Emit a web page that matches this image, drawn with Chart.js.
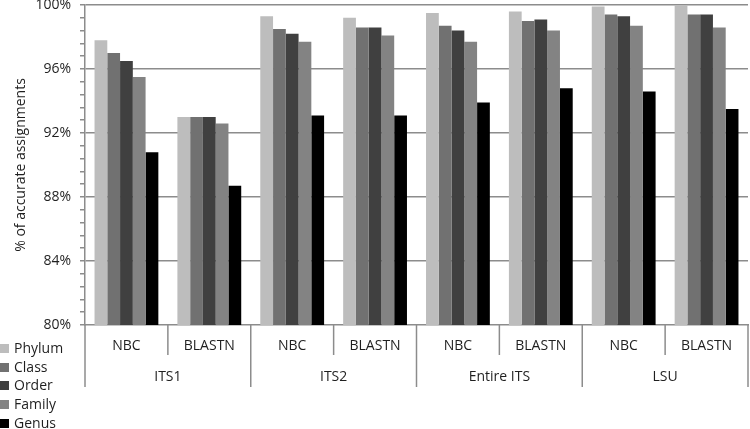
<!DOCTYPE html>
<html lang="en">
<head>
  <meta charset="UTF-8">
  <title>Accurate assignments</title>
  <script src="https://cdn.jsdelivr.net/npm/chart.js"></script>
  <style>
    body {
      margin: 0;
      background: #fff;
      font-family: 'Open Sans', sans-serif;
      color: #1f1f1f;
    }
    .wrap {
      position: relative;
      width: 750px;
      height: 429px;
      overflow: hidden;
    }
    .legend {
      position: absolute;
      left: 0;
      top: 339px;
      font-size: 14px;
      line-height: 18.7px;
    }
    .legend div { white-space: nowrap; }
    .legend span {
      display: inline-block;
      width: 9px;
      height: 9px;
      margin-right: 5px;
      vertical-align: 0;
    }
  </style>
</head>
<body>
  <div class="wrap">
    <canvas id="chart" width="750" height="429"></canvas>
    <div class="legend" id="legend"></div>
  </div>

  <script>
    const tickLabels = ['NBC', 'BLASTN', 'NBC', 'BLASTN', 'NBC', 'BLASTN', 'NBC', 'BLASTN'];
    const regions = ['ITS1', 'ITS2', 'Entire ITS', 'LSU'];
    const seriesNames = ['Phylum', 'Class', 'Order', 'Family', 'Genus'];
    const seriesColors = ['#bdbdbd', '#717171', '#404040', '#838383', '#000000'];

    const phylum = [97.8, 93.0, 99.3, 99.2, 99.5, 99.6, 99.9, 100.0];
    const classes = [97.0, 93.0, 98.5, 98.6, 98.7, 99.0, 99.4, 99.4];
    const order = [96.5, 93.0, 98.2, 98.6, 98.4, 99.1, 99.3, 99.4];
    const family = [95.5, 92.6, 97.7, 98.1, 97.7, 98.4, 98.7, 98.6];
    const genus = [90.8, 88.7, 93.1, 93.1, 93.9, 94.8, 94.6, 93.5];

    const gridColor = '#8c8c8c';
    const textColor = '#1f1f1f';

    // legend (bottom left)
    const legendEl = document.getElementById('legend');
    seriesNames.forEach((name, i) => {
      const row = document.createElement('div');
      row.innerHTML = '<span style="background:' + seriesColors[i] + '"></span>' + name;
      legendEl.appendChild(row);
    });

    // two-level x axis labels with separators
    const xLabels = {
      id: 'xLabels',
      afterDraw(chart) {
        const { ctx, chartArea, scales: { x } } = chart;
        const half = (x.getPixelForValue(1) - x.getPixelForValue(0)) / 2;
        const base = chartArea.bottom;
        ctx.save();
        ctx.strokeStyle = gridColor;
        ctx.lineWidth = 1.5;
        for (let i = 0; i <= tickLabels.length; i++) {
          const bx = i < tickLabels.length ? x.getPixelForValue(i) - half : x.getPixelForValue(i - 1) + half;
          const len = i % 2 === 0 ? 62 : 30;
          ctx.beginPath();
          ctx.moveTo(bx, base);
          ctx.lineTo(bx, base + len);
          ctx.stroke();
        }
        ctx.font = '14px "Open Sans"';
        ctx.fillStyle = textColor;
        ctx.textAlign = 'center';
        ctx.textBaseline = 'middle';
        tickLabels.forEach((t, i) => ctx.fillText(t, x.getPixelForValue(i), base + 21));
        regions.forEach((r, j) => {
          const cx = (x.getPixelForValue(2 * j) + x.getPixelForValue(2 * j + 1)) / 2;
          ctx.fillText(r, cx, base + 52);
        });
        ctx.restore();
      }
    };

    const isMajor = v => Math.abs(v / 4 - Math.round(v / 4)) < 0.001;

    new Chart(document.getElementById('chart'), {
      type: 'bar',
      data: {
        labels: tickLabels,
        datasets: [phylum, classes, order, family, genus].map((d, i) => ({
          label: seriesNames[i],
          data: d,
          backgroundColor: seriesColors[i],
          borderWidth: 0,
          categoryPercentage: 0.77,
          barPercentage: 1
        }))
      },
      options: {
        responsive: false,
        animation: false,
        devicePixelRatio: 1,
        layout: { padding: { top: 5, right: 2, left: 0, bottom: 0 } },
        plugins: {
          legend: { display: false },
          tooltip: { enabled: false }
        },
        scales: {
          x: {
            ticks: { display: false },
            grid: { display: false, drawTicks: false },
            border: { color: gridColor, width: 1.5 },
            afterFit: s => { s.height = 104; s.paddingLeft = 0; s.paddingRight = 0; }
          },
          y: {
            min: 80,
            max: 100,
            ticks: {
              stepSize: 0.8,
              autoSkip: false,
              padding: 9,
              color: textColor,
              font: { family: 'Open Sans', size: 14 },
              callback: v => isMajor(v) ? Math.round(v) + '%' : ''
            },
            grid: {
              color: c => isMajor(c.tick.value) && c.tick.value > 80 ? gridColor : 'rgba(0,0,0,0)',
              tickColor: gridColor,
              lineWidth: 1.5,
              tickLength: 5
            },
            border: { color: gridColor, width: 1.5 },
            title: {
              display: true,
              text: '% of accurate assignments',
              color: textColor,
              font: { family: 'Open Sans', size: 14 },
              padding: { top: 13, bottom: 0 }
            },
            afterFit: s => { s.width = 85; s.paddingTop = 0; s.paddingBottom = 0; }
          }
        }
      },
      plugins: [xLabels]
    });
  </script>
</body>
</html>
